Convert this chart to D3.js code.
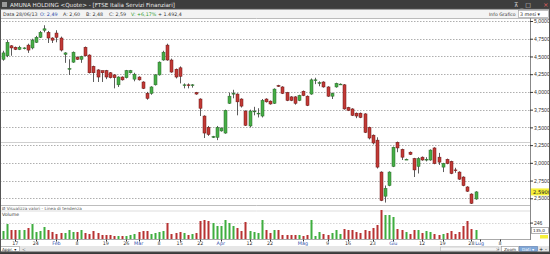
<!DOCTYPE html>
<html><head><meta charset="utf-8">
<script src="https://cdn.jsdelivr.net/npm/d3@7"></script>
<style>body{margin:0;background:#fff;overflow:hidden}svg{display:block;font-family:"DejaVu Sans",sans-serif}</style>
</head><body><svg id="c" width="550" height="254"></svg>
<script>
// ---------------- DATA ----------------
const openP=[4.46,4.51,4.65,4.63,4.60,4.61,4.66,4.62,4.70,4.77,4.87,4.84,4.76,4.83,4.76,4.53,4.32,4.42,4.49,4.46,
4.63,4.52,4.36,4.31,4.30,4.30,4.27,4.24,4.10,4.21,4.20,4.27,4.18,4.21,4.14,3.98,3.98,4.10,4.24,4.45,
4.66,4.45,4.32,4.34,4.09,4.10,4.09,3.99,3.90,3.66,3.50,3.36,3.36,3.45,3.42,3.84,3.98,3.97,3.90,3.73,
3.52,3.73,3.70,3.66,3.90,3.87,3.84,4.09,4.07,3.99,3.93,3.93,3.88,4.01,3.94,3.97,4.17,4.12,4.14,4.07,
3.94,4.07,4.11,4.10,3.78,3.76,3.70,3.70,3.69,3.50,3.39,3.32,2.87,2.53,2.68,2.95,3.29,3.19,3.05,3.15,
3.06,2.95,3.08,3.05,3.04,3.21,3.08,2.94,3.05,3.02,2.90,2.87,2.80,2.66,2.56,2.49];
const highP=[4.58,4.73,4.66,4.64,4.65,4.63,4.68,4.75,4.79,4.86,4.94,4.86,4.77,4.87,4.78,4.56,4.46,4.57,4.50,4.51,
4.64,4.53,4.37,4.32,4.30,4.31,4.28,4.25,4.22,4.22,4.31,4.31,4.27,4.22,4.15,4.00,4.08,4.25,4.43,4.58,
4.68,4.47,4.33,4.36,4.12,4.12,4.11,4.00,3.91,3.67,3.52,3.38,3.52,3.50,3.75,3.99,4.03,3.98,3.91,3.74,
3.75,3.79,3.77,3.90,3.91,3.88,4.05,4.10,4.08,4.00,3.94,3.94,3.96,4.02,3.95,4.19,4.20,4.15,4.15,4.08,
3.99,4.13,4.12,4.11,3.79,3.77,3.71,3.71,3.70,3.51,3.40,3.36,2.88,2.68,2.88,3.23,3.30,3.20,3.06,3.16,
3.07,3.08,3.09,3.08,3.19,3.22,3.14,3.00,3.06,3.03,2.93,2.88,2.81,2.67,2.57,2.60];
const lowP=[4.44,4.49,4.51,4.59,4.59,4.60,4.55,4.60,4.69,4.76,4.84,4.69,4.69,4.70,4.57,4.41,4.24,4.41,4.45,4.41,
4.50,4.26,4.14,4.14,4.14,4.18,4.19,4.05,4.07,4.16,4.19,4.26,4.15,4.16,4.04,3.89,3.96,4.09,4.23,4.44,
4.44,4.27,4.19,4.12,4.05,4.05,4.06,3.96,3.66,3.35,3.38,3.35,3.32,3.44,3.41,3.83,3.91,3.67,3.78,3.52,
3.50,3.67,3.64,3.64,3.85,3.82,3.83,4.07,3.97,3.87,3.87,3.82,3.87,3.94,3.80,3.96,4.11,4.08,4.06,3.93,
3.90,4.06,4.10,3.75,3.73,3.66,3.63,3.63,3.42,3.33,3.26,2.92,2.46,2.44,2.67,2.94,3.15,3.04,3.04,3.11,
2.80,2.85,3.03,3.02,3.03,2.98,2.97,2.87,2.98,2.84,2.86,2.76,2.67,2.59,2.42,2.48];
const closeP=[4.55,4.70,4.62,4.60,4.63,4.62,4.59,4.73,4.77,4.84,4.89,4.76,4.73,4.77,4.59,4.55,4.33,4.56,4.46,4.50,
4.51,4.27,4.27,4.21,4.27,4.21,4.20,4.20,4.21,4.17,4.30,4.30,4.25,4.17,4.05,3.91,4.07,4.24,4.42,4.56,
4.45,4.28,4.21,4.22,4.10,4.09,4.10,3.97,3.77,3.42,3.40,3.37,3.50,3.49,3.74,3.94,3.98,3.86,3.80,3.53,
3.73,3.73,3.70,3.88,3.86,3.83,4.04,4.08,3.98,3.88,3.88,3.84,3.95,3.95,3.81,4.17,4.17,4.13,4.07,3.94,
3.98,4.12,4.11,3.76,3.74,3.67,3.66,3.64,3.43,3.35,3.28,2.94,2.47,2.64,2.87,3.22,3.21,3.08,3.05,3.12,
2.90,3.06,3.04,3.05,3.18,2.99,3.01,2.99,2.99,2.85,2.89,2.77,2.68,2.60,2.43,2.59];
const volumes=[120,225,135,135,135,135,165,225,105,120,180,135,105,75,90,90,135,105,105,135,
90,75,120,90,60,60,60,45,45,45,45,60,75,105,120,120,75,90,105,120,
240,75,90,105,90,60,75,90,270,285,270,240,195,195,285,240,195,165,120,255,
120,105,90,285,135,90,135,135,60,60,60,60,60,45,60,285,45,105,75,60,
90,135,75,150,135,135,105,90,135,120,165,210,435,360,360,330,150,135,105,75,
135,135,90,120,105,75,60,75,90,120,75,105,195,270,150,135];
const priceTicks=[5.00,4.75,4.50,4.25,4.00,3.75,3.50,3.25,3.00,2.75,2.50];
const volTicks=[246];
const trendLevel=3.30;
const dateTickIdx=[4,9,14,19,26,31,34,39,44,49,54,61,66,74,80,85,91,96,103,108,115,117,122];
const dateTickLbl=["17","24","Feb","8","19","26","Mar","8","15","22","Apr","12","22","Mag","9","16","23","Giu","12","19","28","Lug","8"];
const monthLbl=["Feb","Mar","Apr","Mag","Giu","Lug"];

// --------------- CHART ---------------
const it=d3.formatLocale({decimal:",",thousands:".",grouping:[3],currency:["","€"]});
const f4=it.format(",.4f"), f2=it.format(",.2f"), fv=it.format(",.0f");
const n=closeP.length;
const data=d3.range(n).map(i=>({i:i+1,o:openP[i],h:highP[i],l:lowP[i],c:closeP[i],v:volumes[i]}));
const svg=d3.select("#c");
const W=550,H=254, PR=530;
const x=d3.scaleLinear().domain([1,116]).range([3,475.5]);
const y=d3.scaleLinear().domain([2.5,5.0]).range([198.3,21]);
const vy=d3.scaleLinear().domain([0,450]).range([239,209]);
const red="#c23a36", redS="#6e1414", grn="#46ad46", grnS="#2a6a2a";

svg.append("rect").attr("width",W).attr("height",H).attr("fill","#fff");
// title bar
svg.append("rect").attr("x",0).attr("y",0).attr("width",W).attr("height",9).attr("fill","#3d3d3d");
svg.append("rect").attr("x",2).attr("y",2).attr("width",5).attr("height",5).attr("fill","#9a9a9a");
svg.append("text").attr("x",10).attr("y",7).attr("font-size",5.6).attr("fill","#e8e8e8")
  .text("AMUNA HOLDING <Quote> - [FTSE Italia Servizi Finanziari]");
svg.append("text").attr("x",514).attr("y",7).attr("font-size",6).attr("fill","#ddd").text("⊼  _  □");
svg.append("text").attr("x",543).attr("y",7).attr("font-size",6.5).attr("fill","#e06060").text("×");
// info row
svg.append("rect").attr("x",0).attr("y",9).attr("width",W).attr("height",9).attr("fill","#f3f3f3");
const info=[[3,"Data 28/06/13","#333"],[40,"O: "+f2(openP[n-1]),"#2a4aa8"],[63,"A: "+f2(highP[n-1]),"#333"],
 [86,"B: "+f2(lowP[n-1]),"#333"],[109,"C: "+f2(closeP[n-1]),"#333"],[131,"V: +6,17%","#2c9a2c"],[158,"+ 1.492,4","#333"]];
info.forEach(d=>svg.append("text").attr("x",d[0]).attr("y",15.5).attr("font-size",4.8).attr("fill",d[2]).text(d[1]));
svg.append("text").attr("x",489).attr("y",15.5).attr("font-size",4.6).attr("fill","#333").text("Info Grafico");
svg.append("rect").attr("x",518.5).attr("y",10.5).attr("width",30).attr("height",7).attr("fill","#fff").attr("stroke","#999").attr("stroke-width",0.6);
svg.append("text").attr("x",520).attr("y",15.8).attr("font-size",4.8).attr("fill","#222").text("3 mesi  ▾");
svg.append("line").attr("x1",0).attr("x2",W).attr("y1",18.5).attr("y2",18.5).attr("stroke","#bbb");

// price gridlines
const g=svg.append("g");
g.selectAll("line.grid").data(priceTicks).join("line").attr("class","grid")
  .attr("x1",0).attr("x2",PR).attr("y1",d=>Math.round(y(d))+0.5).attr("y2",d=>Math.round(y(d))+0.5)
  .attr("stroke","#9a9a9a").attr("stroke-dasharray","1.5,1.5").attr("stroke-width",0.8);
// trend line
g.append("line").attr("x1",0).attr("x2",PR).attr("y1",Math.round(y(trendLevel))+0.5).attr("y2",Math.round(y(trendLevel))+0.5)
  .attr("stroke","#cfcfcf").attr("stroke-width",1);

// right price axis
const ax=svg.append("g").attr("transform",`translate(${PR},0)`);
ax.append("line").attr("x1",0.5).attr("x2",0.5).attr("y1",18).attr("y2",240).attr("stroke","#888");
const pAxis=d3.axisRight(y).tickValues(priceTicks).tickSize(3).tickFormat(f4);
const pa=svg.append("g").attr("transform",`translate(${PR},0)`).call(pAxis);
pa.select(".domain").remove();
pa.selectAll("text").attr("font-size",5.2).attr("fill","#333").attr("x",4);
pa.selectAll("line").attr("stroke","#333");
// last price box
const lp=closeP[n-1];
svg.append("rect").attr("x",531).attr("y",y(lp)-3.5).attr("width",18).attr("height",7).attr("fill","#f6f03a");
svg.append("text").attr("x",533).attr("y",y(lp)+2).attr("font-size",5.2).attr("fill","#222").text(f4(lp));

// candles
const cg=svg.append("g");
cg.selectAll("line.wick").data(data).join("line").attr("class","wick")
  .attr("x1",d=>Math.round(x(d.i))+0.5).attr("x2",d=>Math.round(x(d.i))+0.5)
  .attr("y1",d=>y(d.h)).attr("y2",d=>y(d.l)).attr("stroke","#333").attr("stroke-width",0.8);
cg.selectAll("rect.body").data(data).join("rect").attr("class","body")
  .attr("x",d=>Math.round(x(d.i))-1).attr("width",3)
  .attr("y",d=>y(Math.max(d.o,d.c))).attr("height",d=>Math.max(0.8,Math.abs(y(d.o)-y(d.c))))
  .attr("fill",d=>d.c>=d.o?grn:red).attr("stroke",d=>d.c>=d.o?grnS:redS).attr("stroke-width",0.5);

// panel separator & indicator row
svg.append("line").attr("x1",0).attr("x2",PR).attr("y1",205.5).attr("y2",205.5).attr("stroke","#bdbdbd");
svg.append("text").attr("x",2).attr("y",210).attr("font-size",4.2).attr("fill","#555").text("Ø Visualizza valori - Linea di tendenza");
svg.append("line").attr("x1",0).attr("x2",PR).attr("y1",211).attr("y2",211).attr("stroke","#ddd");
svg.append("text").attr("x",2).attr("y",216).attr("font-size",4.6).attr("fill","#333").text("Volume");

// volume
svg.selectAll("line.vgrid").data(volTicks).join("line").attr("class","vgrid")
  .attr("x1",0).attr("x2",PR).attr("y1",d=>Math.round(vy(d))+0.5).attr("y2",d=>Math.round(vy(d))+0.5)
  .attr("stroke","#bbb").attr("stroke-dasharray","1.5,1.5").attr("stroke-width",0.6);
svg.append("g").selectAll("rect").data(data).join("rect")
  .attr("x",d=>Math.round(x(d.i))-0.5).attr("width",2)
  .attr("y",d=>vy(d.v)).attr("height",d=>vy(0)-vy(d.v))
  .attr("fill",d=>d.c>=d.o?"#3fae3f":"#b83232");
const vAxis=d3.axisRight(vy).tickValues(volTicks).tickSize(3).tickFormat(d=>d);
const va=svg.append("g").attr("transform",`translate(${PR},0)`).call(vAxis);
va.select(".domain").remove();
va.selectAll("text").attr("font-size",5).attr("fill","#333").attr("x",4);
va.selectAll("line").attr("stroke","#333");
svg.append("rect").attr("x",531.5).attr("y",227.5).attr("width",17).attr("height",6).attr("fill","#fff").attr("stroke","#666").attr("stroke-width",0.5);
svg.append("text").attr("x",533).attr("y",232.2).attr("font-size",4.2).attr("fill","#222").text(it.format(",.1f")(volumes[n-1]));
svg.append("rect").attr("x",540).attr("y",235).attr("width",8).attr("height",3.5).attr("fill","#f6f03a");

// x axis
svg.append("line").attr("x1",0).attr("x2",PR).attr("y1",239.5).attr("y2",239.5).attr("stroke","#aaa");
const xa=svg.append("g");
xa.selectAll("line").data(dateTickIdx).join("line")
  .attr("x1",d=>Math.round(x(d))+0.5).attr("x2",d=>Math.round(x(d))+0.5).attr("y1",239.5).attr("y2",241.5).attr("stroke","#333");
xa.selectAll("text").data(dateTickIdx).join("text")
  .attr("x",d=>x(d)).attr("y",245).attr("text-anchor","middle").attr("font-size",4.8)
  .attr("fill",(d,i)=>monthLbl.includes(dateTickLbl[i])?"#2a4aa8":"#333").text((d,i)=>dateTickLbl[i]);

// bottom bar
svg.append("rect").attr("x",0).attr("y",246).attr("width",W).attr("height",6).attr("fill","#e6e6e6");
svg.append("rect").attr("x",0.5).attr("y",246.5).attr("width",19).attr("height",5).attr("fill","#fff").attr("stroke","#888").attr("stroke-width",0.5);
svg.append("text").attr("x",2).attr("y",250.5).attr("font-size",4.2).attr("fill","#222").text("Appr. ▾");
svg.append("text").attr("x",22).attr("y",250.5).attr("font-size",4.5).attr("fill","#555").text("<");
svg.append("rect").attr("x",440.5).attr("y",247).attr("width",58).attr("height",4).attr("fill","#f4f4f4").attr("stroke","#aaa").attr("stroke-width",0.5);
svg.append("text").attr("x",496).attr("y",250.8).attr("font-size",4.2).attr("fill","#555").text(">");
svg.append("rect").attr("x",501.5).attr("y",246.5).attr("width",17).attr("height",5).attr("fill","#fff").attr("stroke","#888").attr("stroke-width",0.5);
svg.append("text").attr("x",504).attr("y",250.7).attr("font-size",4.2).attr("fill","#222").text("Zoom");
svg.append("rect").attr("x",519.5).attr("y",246.5).attr("width",18).attr("height",5).attr("fill","#7fa7d8").attr("stroke","#4a6fa8").attr("stroke-width",0.5);
svg.append("text").attr("x",522).attr("y",250.7).attr("font-size",4.2).attr("fill","#fff").text("Dati ▾");
svg.append("text").attr("x",539).attr("y",251).attr("font-size",5).attr("fill","#222").text("+");
svg.append("text").attr("x",545).attr("y",251).attr("font-size",5).attr("fill","#222").text("-");
svg.append("rect").attr("x",0).attr("y",252).attr("width",W).attr("height",2).attr("fill","#3a3a3a");
// frame
svg.append("rect").attr("x",0.5).attr("y",9).attr("width",W-1).attr("height",243).attr("fill","none").attr("stroke","#555").attr("stroke-width",1);
</script></body></html>
